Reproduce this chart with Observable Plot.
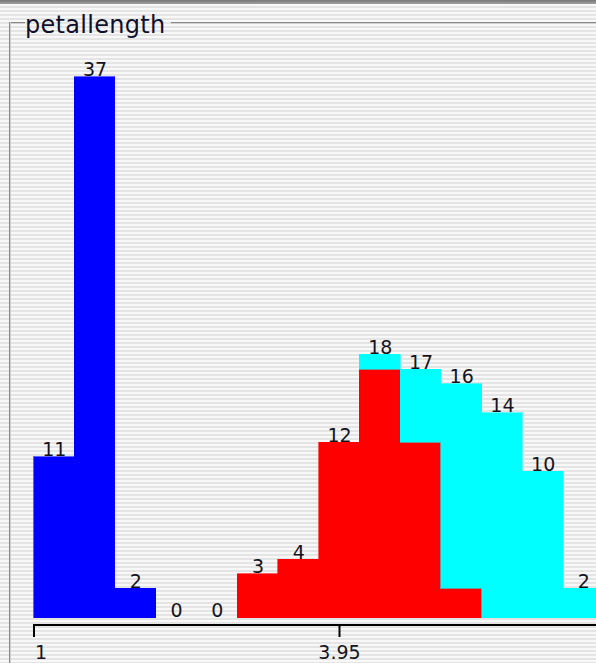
<!DOCTYPE html>
<html>
<head>
<meta charset="utf-8">
<script src="https://cdn.jsdelivr.net/npm/d3@7"></script>
<script src="https://cdn.jsdelivr.net/npm/@observablehq/plot@0.6"></script>
<style>
  html, body { margin: 0; padding: 0; width: 596px; height: 663px; overflow: hidden; }
  body {
    position: relative;
    background: repeating-linear-gradient(to bottom, #f8f8f8 0px, #f8f8f8 2px, #e4e4e4 2px, #e4e4e4 4px);
    font-family: "DejaVu Sans", sans-serif;
  }
  #topband { position: absolute; left: 0; top: 0; width: 596px; height: 4px; background: linear-gradient(#777777, #a0a0a0); }
  .hline { position: absolute; top: 22px; height: 2px; background: linear-gradient(#888888 50%, #d0d0d0 50%); }
  #vline { position: absolute; left: 9px; top: 22px; width: 2px; height: 660px; background: linear-gradient(to right, #888888 50%, #d0d0d0 50%); }
  #title { position: absolute; left: 25px; top: 12.7px; font-size: 24px; line-height: 24px; letter-spacing: 0.3px; color: #10102a; white-space: nowrap; }
  #chart { position: absolute; left: 0; top: 0; }
  #chart svg { max-width: none !important; background: transparent !important; overflow: visible; }
</style>
</head>
<body>
<div id="topband"></div>
<div class="hline" style="left:9px; width:16px;"></div>
<div class="hline" style="left:171px; width:425px;"></div>
<div id="vline"></div>
<div id="title">petallength</div>
<div id="chart"></div>
<script>
// Attribute range and bin layout (Weka histogram, 15 bins; the last bin falls outside the window)
const attrMin = 1;
const attrMax = 6.9;
const binCount = 15;
const tickValues = [1, 3.95];
const tickLabels = ["1", "3.95"];

// Counts per visible bin, by class
const setosa     = [11, 37, 2, 0, 0, 0, 0,  0,  0,  0,  0,  0,  0, 0];
const versicolor = [ 0,  0, 0, 0, 0, 3, 4, 12, 17, 12,  2,  0,  0, 0];
const virginica  = [ 0,  0, 0, 0, 0, 0, 0,  0,  1,  5, 14, 14, 10, 2];

const classNames = ["Iris-setosa", "Iris-versicolor", "Iris-virginica"];
const classColors = ["#0000ff", "#ff0000", "#00ffff"];
const series = [setosa, versicolor, virginica];

const binWidth = (attrMax - attrMin) / binCount;

const rects = [];
const totals = [];
for (let i = 0; i < setosa.length; i++) {
  let acc = 0;
  series.forEach((s, k) => {
    if (s[i] > 0) {
      rects.push({x1: attrMin + i * binWidth, x2: attrMin + (i + 1) * binWidth, y1: acc, y2: acc + s[i], cls: classNames[k]});
    }
    acc += s[i];
  });
  totals.push({x: attrMin + (i + 0.5) * binWidth, total: acc});
}

const W = 660, H = 663;
const font = "DejaVu Sans, sans-serif";
const textColor = "#141420";

const plot = Plot.plot({
  width: W,
  height: H,
  marginLeft: 33.5,
  marginRight: W - 33.5 - (attrMax - attrMin) * 103.56,
  marginTop: 76.7,
  marginBottom: 45.5,
  style: {background: "transparent", maxWidth: "none", fontFamily: font},
  x: {domain: [attrMin, attrMax], axis: null},
  y: {domain: [0, d3.max(totals, d => d.total)], axis: null},
  color: {domain: classNames, range: classColors},
  marks: [
    Plot.rect(rects, {x1: "x1", x2: "x2", y1: "y1", y2: "y2", fill: "cls", stroke: "cls", strokeWidth: 0.6, shapeRendering: "crispEdges"}),
    Plot.text(totals, {x: "x", y: "total", text: d => String(d.total), lineAnchor: "bottom", dy: -1, fontSize: 19, fontFamily: font, fill: textColor}),
    Plot.ruleY([0], {x1: attrMin, x2: attrMax, dy: 7, stroke: "#000", strokeWidth: 2}),
    Plot.axisX(tickValues, {anchor: "bottom", tickSize: 13, dy: 6.5, tickFormat: () => "", stroke: "#000", strokeWidth: 2}),
    Plot.text([tickValues[0]], {x: d => d, frameAnchor: "bottom", text: () => tickLabels[0], textAnchor: "start", lineAnchor: "bottom", dx: 1, dy: 41, fontSize: 19, fontFamily: font, fill: textColor}),
    Plot.text([tickValues[1]], {x: d => d, frameAnchor: "bottom", text: () => tickLabels[1], textAnchor: "middle", lineAnchor: "bottom", dy: 41, fontSize: 19, fontFamily: font, fill: textColor})
  ]
});
document.getElementById("chart").appendChild(plot);
</script>
</body>
</html>
